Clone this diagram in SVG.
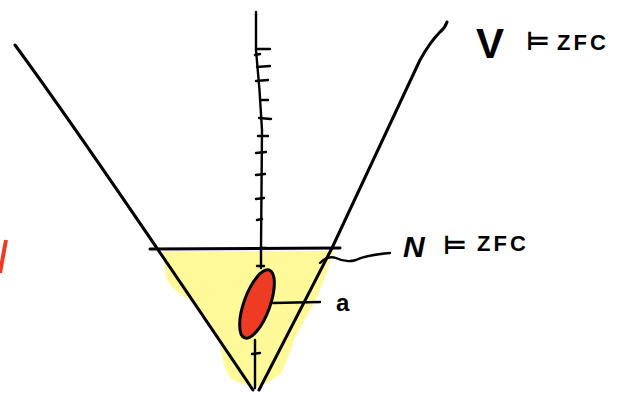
<svg xmlns="http://www.w3.org/2000/svg" width="629" height="393" viewBox="0 0 629 393">
<style>
.ink{fill:none;stroke:#000;stroke-width:3;stroke-linecap:round;stroke-linejoin:round}
.thin{fill:none;stroke:#000;stroke-width:2.4;stroke-linecap:round}
.lbl{font-family:"Liberation Sans",Arial,sans-serif;fill:#000}
.zfc{font-family:"Liberation Sans",Arial,sans-serif;fill:#000;font-size:22px;font-weight:bold;letter-spacing:3px}
.ent{font-family:"DejaVu Sans",sans-serif;fill:#000;font-size:26px;font-weight:bold}
</style>
<rect width="629" height="393" fill="#fff"/>
<g id="fill-N">
<path d="M163,251 L334,251 Q330,262 327,272 Q322,285 318,295 Q305,320 294,340 Q288,360 282,372 Q270,384 258,386 Q242,386 230,378 Q220,360 220,340 Q210,318 190,300 Q172,290 166,278 Z" fill="#FFF99A"/>
</g>
<g id="universe">
<path class="ink" d="M15,45 Q82,136 253,390"/>
<path class="ink" d="M447,22 Q445,28 440,32 Q430,42 420,60 L332,248 L259,390"/>
<path class="ink" d="M150,249 L340,248"/>
</g>
<g id="ordinals">
<path class="thin" d="M256,12 L256,50 Q260,90 262,130 L261,248 L261,268"/>
<path class="thin" d="M255,340 L255,388"/>
<path class="thin" d="M256,49 L270,49 M255,55 L260,54 M257,67 L270,66 M256,81 L268,80 M260,100 L268,100 M259,118 L271,119 M258,136 L268,136 M256,153 L266,152 M256,175 L265,174 M256,199 L264,198 M257,220 L262,219 M261,248 L266,248 M257,266 L264,266 M252,354 L260,353"/>
</g>
<g id="a">
<ellipse cx="257" cy="304" rx="13" ry="36" transform="rotate(20 257 304)" fill="#EE3B24" stroke="#000" stroke-width="3"/>
<text class="lbl" x="336" y="311" font-size="24" font-weight="bold">a</text>
</g>
<g id="connectors">
<path class="thin" d="M273,303 L320,302"/>
<path class="thin" d="M320,263 Q328,255 336,258 Q346,263 356,260 Q366,255 390,253"/>
</g>
<g id="V-label">
<text class="lbl" x="476" y="58" font-size="42" font-weight="bold">V</text>
<text class="ent" x="526" y="50">⊨</text>
<text class="zfc" x="557" y="50">ZFC</text>
</g>
<g id="N-label">
<text class="lbl" x="403" y="257" font-size="30" font-weight="bold" font-style="italic">N</text>
<text class="ent" x="443" y="254">⊨</text>
<text class="zfc" x="477" y="251">ZFC</text>
</g>
<g id="mark">
<path d="M6,240 L0,273" stroke="#EE3B24" stroke-width="4" fill="none"/>
</g>
</svg>
